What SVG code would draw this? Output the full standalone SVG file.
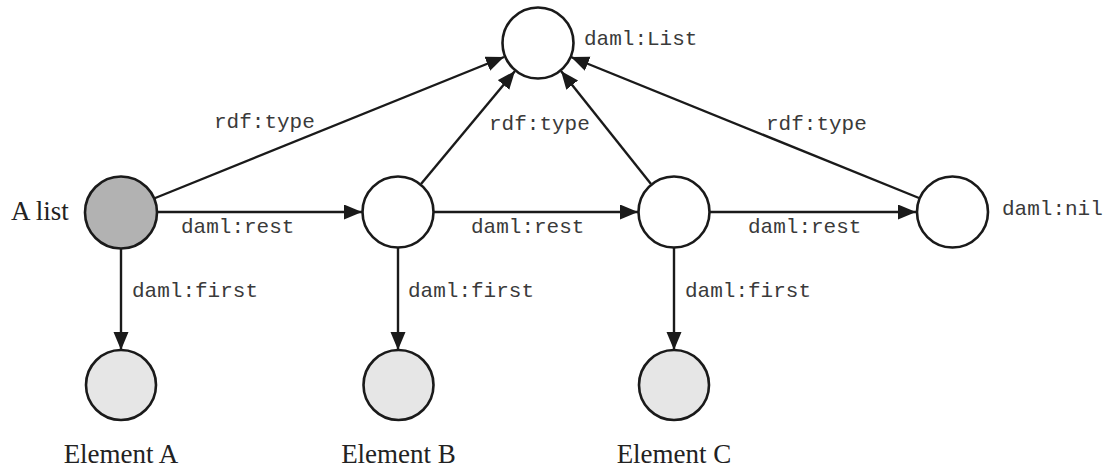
<svg xmlns="http://www.w3.org/2000/svg" width="1109" height="470" viewBox="0 0 1109 470">
<defs>
<marker id="arr" markerUnits="userSpaceOnUse" markerWidth="19" markerHeight="16" refX="18" refY="7.5" orient="auto">
<path d="M0,0 L18,7.5 L0,15 z" fill="#1a1a1a"/>
</marker>
<style>
.node{stroke:#1a1a1a;stroke-width:2.6;fill:#fff}
.head{fill:#b2b2b2}
.elem{fill:#e6e6e6}
.edge{stroke:#1a1a1a;stroke-width:2.4;fill:none;marker-end:url(#arr)}
.mono{font-family:"Liberation Mono","Courier New",monospace;font-size:21px;fill:#3a3a3a}
.serif{font-family:"Liberation Serif","Times New Roman",serif;font-size:27px;fill:#222}
</style>
</defs>
<rect width="1109" height="470" fill="#fff"/>
<g id="connectors">
<line class="edge" x1="154" y1="198.5" x2="504" y2="57"/>
<line class="edge" x1="421" y1="184" x2="515" y2="71"/>
<line class="edge" x1="651" y1="184" x2="561" y2="71"/>
<line class="edge" x1="919" y1="198" x2="571" y2="57"/>
<line class="edge" x1="157" y1="212" x2="362" y2="212"/>
<line class="edge" x1="434" y1="212" x2="638" y2="212"/>
<line class="edge" x1="710" y1="212" x2="916" y2="212"/>
<line class="edge" x1="121" y1="248" x2="121" y2="350"/>
<line class="edge" x1="398" y1="248" x2="398" y2="350"/>
<line class="edge" x1="674" y1="248" x2="674" y2="350"/>
<text class="mono" x="214" y="128">rdf:type</text>
<text class="mono" x="489" y="130">rdf:type</text>
<text class="mono" x="766" y="130">rdf:type</text>
<text class="mono" x="181" y="233">daml:rest</text>
<text class="mono" x="471" y="233">daml:rest</text>
<text class="mono" x="748" y="233">daml:rest</text>
<text class="mono" x="132" y="297">daml:first</text>
<text class="mono" x="408" y="297">daml:first</text>
<text class="mono" x="685" y="297">daml:first</text>
</g>
<g id="list-class">
<circle class="node" cx="538" cy="43" r="35.5"/>
<text class="mono" x="584" y="45">daml:List</text>
</g>
<g id="a-list">
<circle class="node head" cx="121" cy="212.5" r="36"/>
<text class="serif" x="11" y="220">A list</text>
</g>
<g id="node-b">
<circle class="node" cx="398" cy="212" r="35.5"/>
</g>
<g id="node-c">
<circle class="node" cx="674" cy="212" r="35.5"/>
</g>
<g id="nil">
<circle class="node" cx="952.5" cy="212" r="35.5"/>
<text class="mono" x="1002" y="215">daml:nil</text>
</g>
<g id="element-a">
<circle class="node elem" cx="121" cy="385" r="35"/>
<text class="serif" x="121" y="463" text-anchor="middle">Element A</text>
</g>
<g id="element-b">
<circle class="node elem" cx="398.5" cy="385" r="35"/>
<text class="serif" x="398.5" y="463" text-anchor="middle">Element B</text>
</g>
<g id="element-c">
<circle class="node elem" cx="674" cy="385" r="35"/>
<text class="serif" x="674" y="463" text-anchor="middle">Element C</text>
</g>
</svg>
